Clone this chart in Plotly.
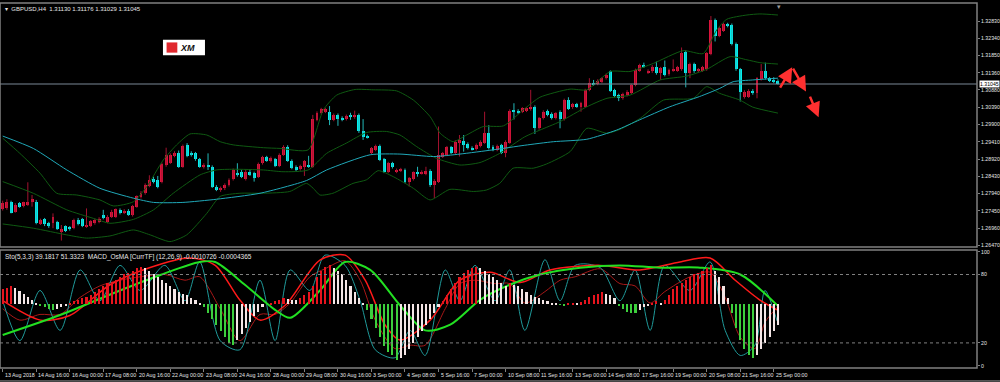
import plotly.graph_objects as go

# ---------------- data ----------------
open_ = [1.2750,1.2752,1.2770,1.2743,1.2767,1.2759,1.2762,1.2769,1.2771,1.2708,
1.2721,1.2710,1.2712,1.2713,1.2684,1.2701,1.2699,1.2696,1.2719,1.2721,
1.2701,1.2702,1.2710,1.2714,1.2734,1.2714,1.2729,1.2729,1.2748,1.2740,
1.2746,1.2733,1.2757,1.2784,1.2795,1.2816,1.2835,1.2833,1.2828,1.2875,
1.2882,1.2901,1.2910,1.2870,1.2932,1.2910,1.2908,1.2891,1.2869,1.2875,
1.2870,1.2814,1.2803,1.2809,1.2819,1.2835,1.2852,1.2856,1.2835,1.2856,
1.2852,1.2842,1.2880,1.2897,1.2885,1.2891,1.2872,1.2904,1.2927,1.2887,
1.2870,1.2863,1.2870,1.2875,1.2870,1.3003,1.3022,1.3026,1.3026,1.3003,
1.3017,1.3009,1.3004,1.3014,1.3010,1.3017,1.2970,1.2957,1.2910,1.2918,
1.2929,1.2891,1.2856,1.2880,1.2856,1.2859,1.2861,1.2828,1.2835,1.2854,
1.2852,1.2850,1.2859,1.2817,1.2828,1.2899,1.2904,1.2925,1.2910,1.2938,
1.2944,1.2935,1.2924,1.2920,1.2929,1.2938,1.2965,1.2927,1.2918,1.2931,
1.2910,1.2938,1.3031,1.3029,1.3026,1.3029,1.3033,1.3040,1.2979,1.3007,
1.3028,1.3020,1.3007,1.3026,1.3005,1.3059,1.3038,1.3047,1.3039,1.3040,
1.3088,1.3108,1.3105,1.3111,1.3121,1.3140,1.3088,1.3073,1.3064,1.3073,
1.3080,1.3102,1.3142,1.3158,1.3137,1.3140,1.3154,1.3135,1.3152,1.3132,
1.3142,1.3142,1.3146,1.3196,1.3137,1.3161,1.3140,1.3142,1.3146,1.3190,
1.3286,1.3241,1.3256,1.3275,1.3272,1.3218,1.3146,1.3067,1.3069,1.3086,
1.3078,1.3118,1.3140,1.3121,1.3116,1.31130]
high = [1.2774,1.2778,1.2774,1.2767,1.2770,1.2771,1.2826,1.2790,1.2776,1.2723,
1.2725,1.2714,1.2738,1.2717,1.2705,1.2704,1.2702,1.2723,1.2725,1.2725,
1.2752,1.2719,1.2723,1.2727,1.2748,1.2733,1.2748,1.2752,1.2752,1.2750,
1.2750,1.2762,1.2789,1.2801,1.2823,1.2846,1.2842,1.2844,1.2882,1.2924,
1.2908,1.2914,1.2916,1.2933,1.2937,1.2914,1.2912,1.2895,1.2880,1.2908,
1.2874,1.2818,1.2814,1.2823,1.2837,1.2865,1.2880,1.2861,1.2861,1.2861,
1.2856,1.2882,1.2901,1.2901,1.2899,1.2895,1.2908,1.2931,1.2931,1.2891,
1.2874,1.2876,1.2889,1.2901,1.3017,1.3027,1.3037,1.3037,1.3042,1.3021,
1.3021,1.3013,1.3018,1.3023,1.3029,1.3021,1.3005,1.2961,1.2926,1.2933,
1.2933,1.2895,1.2884,1.2884,1.2865,1.2867,1.2865,1.2841,1.2857,1.2870,
1.2860,1.2870,1.2863,1.2835,1.2984,1.2912,1.2929,1.2929,1.2945,1.2960,
1.2960,1.2939,1.2928,1.2936,1.2945,1.3026,1.2988,1.2931,1.2933,1.2935,
1.2945,1.3033,1.3050,1.3033,1.3039,1.3039,1.3088,1.3044,1.3011,1.3030,
1.3032,1.3024,1.3025,1.3030,1.3063,1.3067,1.3051,1.3051,1.3054,1.3091,
1.3121,1.3116,1.3118,1.3124,1.3134,1.3143,1.3091,1.3077,1.3080,1.3087,
1.3105,1.3148,1.3162,1.3165,1.3146,1.3158,1.3168,1.3153,1.3171,1.3148,
1.3174,1.3156,1.3208,1.3200,1.3165,1.3165,1.3150,1.3156,1.3195,1.3297,
1.3290,1.3266,1.3278,1.3278,1.3276,1.3222,1.3150,1.3087,1.3090,1.3090,
1.3124,1.3161,1.3165,1.3124,1.3124,1.31176]
low = [1.2746,1.2748,1.2738,1.2740,1.2754,1.2755,1.2759,1.2757,1.2707,1.2705,
1.2702,1.2697,1.2696,1.2691,1.2661,1.2685,1.2689,1.2693,1.2704,1.2699,
1.2697,1.2699,1.2706,1.2710,1.2721,1.2710,1.2725,1.2725,1.2735,1.2736,
1.2731,1.2729,1.2754,1.2780,1.2791,1.2812,1.2823,1.2809,1.2823,1.2870,
1.2878,1.2897,1.2867,1.2867,1.2897,1.2899,1.2887,1.2867,1.2865,1.2861,
1.2810,1.2801,1.2799,1.2804,1.2814,1.2831,1.2842,1.2838,1.2831,1.2844,
1.2828,1.2838,1.2876,1.2884,1.2882,1.2869,1.2869,1.2901,1.2884,1.2863,
1.2857,1.2859,1.2844,1.2867,1.2867,1.2999,1.3018,1.3022,1.2988,1.2999,
1.2986,1.2999,1.3001,1.3003,1.3006,1.2966,1.2946,1.2950,1.2906,1.2914,
1.2886,1.2852,1.2852,1.2865,1.2852,1.2855,1.2824,1.2814,1.2831,1.2842,
1.2848,1.2846,1.2813,1.2781,1.2824,1.2895,1.2900,1.2906,1.2906,1.2899,
1.2913,1.2919,1.2916,1.2916,1.2925,1.2935,1.2919,1.2914,1.2914,1.2906,
1.2897,1.2935,1.3004,1.3020,1.3022,1.3025,1.3029,1.2963,1.2975,1.3004,
1.3013,1.3004,1.3004,1.2979,1.3001,1.3031,1.3034,1.3037,1.3026,1.3037,
1.3084,1.3099,1.3101,1.3107,1.3117,1.3082,1.3067,1.3056,1.3060,1.3069,
1.3076,1.3098,1.3139,1.3150,1.3133,1.3136,1.3131,1.3116,1.3126,1.3128,
1.3139,1.3139,1.3142,1.3095,1.3121,1.3136,1.3136,1.3139,1.3142,1.3186,
1.3225,1.3237,1.3252,1.3265,1.3214,1.3142,1.3055,1.3063,1.3065,1.3074,
1.3064,1.3114,1.3117,1.3110,1.3107,1.31029]
close = [1.2767,1.2770,1.2740,1.2761,1.2757,1.2769,1.2771,1.2778,1.2710,1.2719,
1.2707,1.2701,1.2727,1.2693,1.2693,1.2689,1.2693,1.2719,1.2708,1.2702,
1.2706,1.2716,1.2719,1.2723,1.2724,1.2729,1.2743,1.2750,1.2738,1.2746,
1.2734,1.2759,1.2786,1.2797,1.2819,1.2833,1.2827,1.2814,1.2878,1.2904,
1.2904,1.2910,1.2870,1.2929,1.2901,1.2904,1.2891,1.2870,1.2875,1.2869,
1.2814,1.2804,1.2809,1.2819,1.2833,1.2861,1.2847,1.2842,1.2856,1.2847,
1.2837,1.2878,1.2897,1.2887,1.2894,1.2872,1.2904,1.2927,1.2887,1.2866,
1.2861,1.2872,1.2885,1.2870,1.3005,1.3023,1.3033,1.3033,1.3003,1.3017,
1.3005,1.3003,1.3014,1.3012,1.3017,1.2970,1.2955,1.2954,1.2922,1.2929,
1.2889,1.2856,1.2880,1.2869,1.2861,1.2863,1.2828,1.2837,1.2854,1.2850,
1.2856,1.2859,1.2817,1.2831,1.2904,1.2908,1.2925,1.2910,1.2941,1.2946,
1.2932,1.2922,1.2920,1.2932,1.2941,1.2965,1.2922,1.2918,1.2929,1.2910,
1.2941,1.3029,1.3026,1.3023,1.3036,1.3036,1.3040,1.2979,1.3007,1.3026,
1.3017,1.3007,1.3022,1.3005,1.3059,1.3035,1.3047,1.3040,1.3050,1.3088,
1.3107,1.3103,1.3114,1.3121,1.3130,1.3086,1.3071,1.3064,1.3076,1.3083,
1.3102,1.3144,1.3158,1.3154,1.3142,1.3154,1.3135,1.3149,1.3130,1.3144,
1.3146,1.3152,1.3193,1.3137,1.3161,1.3140,1.3146,1.3152,1.3191,1.3286,
1.3241,1.3262,1.3275,1.3269,1.3218,1.3146,1.3083,1.3083,1.3086,1.3078,
1.3121,1.3140,1.3121,1.3114,1.3111,1.31045]
bars = list(range(len(close)))

# Moving average (cyan) sampled along the chart: (bar, price)
ma_bar = [0, 7.3, 15.3, 23.2, 31.2, 36, 43, 51, 61.4, 72.5, 77.3, 87.7, 94.8, 102.8, 109.1, 117, 124.6,
          131.4, 139.4, 146.5, 152, 159.2, 166.3, 171.1, 174.3, 179, 185]
ma_val = [1.2957, 1.2922, 1.2861, 1.2809, 1.2781, 1.2769, 1.2769, 1.2778, 1.2795, 1.2831, 1.2861, 1.2904, 1.2906,
          1.2899, 1.2906, 1.2918, 1.2931, 1.2941, 1.2948, 1.2974, 1.3003, 1.3040, 1.3069, 1.3092, 1.3111, 1.3116, 1.3121]

# Bollinger bands (dark green)
bbu_bar = [0, 4.1, 8.9, 12.9, 17.7, 23.2, 26.4, 31.2, 34.4, 38.3, 41.5, 44.7, 48.7, 51.9, 55, 62.2, 66.2, 72.9,
           76.5, 79.7, 84.1, 88.4, 94, 98, 102, 104.4, 107.5, 110.7, 114.7, 119.5, 124.7, 128.2, 135.4, 139.4,
           145, 149.7, 155.3, 162.4, 167.2, 170.4, 172.8, 177.6, 180.7, 185]
bbu_val = [1.2951, 1.2908, 1.2852, 1.2795, 1.2790, 1.2776, 1.2759, 1.2771, 1.2814, 1.2889, 1.2932, 1.2963, 1.2960,
           1.2941, 1.2932, 1.2924, 1.2922, 1.2918, 1.3031, 1.3073, 1.3089, 1.3088, 1.3085, 1.3059, 1.3012, 1.2965,
           1.2941, 1.2960, 1.2984, 1.2986, 1.3036, 1.3067, 1.3090, 1.3088, 1.3140, 1.3140, 1.3163, 1.3199, 1.3191,
           1.3258, 1.3288, 1.3300, 1.3303, 1.3300]
bbm_bar = [0, 7.3, 15.3, 21.6, 25.6, 31.2, 36, 40.7, 47.1, 51, 55, 62.2, 66.9, 72.9, 77.3, 82, 86.8, 91.6, 94.8,
           98.8, 103.5, 109.1, 113.9, 118.6, 124.6, 128.2, 133, 139.4, 144.2, 149.7, 156.9, 163.3, 168, 173.6,
           177.6, 180.7, 185]
bbm_val = [1.2828, 1.2795, 1.2748, 1.2724, 1.2710, 1.2721, 1.2748, 1.2795, 1.2847, 1.2861, 1.2863, 1.2861, 1.2856,
           1.2861, 1.2908, 1.2937, 1.2967, 1.2970, 1.2960, 1.2927, 1.2894, 1.2875, 1.2882, 1.2908, 1.2955, 1.2974,
           1.2998, 1.3040, 1.3064, 1.3073, 1.3116, 1.3127, 1.3146, 1.3182, 1.3173, 1.3165, 1.3161]
bbl_bar = [0, 7.3, 15.3, 20, 25.6, 31.2, 35.2, 39.9, 43.9, 48.7, 51.9, 56.6, 62.2, 68.5, 72.5, 74.1, 75.7, 78.8,
           83.6, 86.8, 89.6, 93.2, 98, 102, 106.7, 112.3, 115.4, 118.6, 121.8, 126.6, 129.8, 135.4, 139.4, 144.2,
           147.3, 152.1, 157.7, 164.8, 168, 171.1, 175.9, 179, 185]
bbl_val = [1.2708, 1.2696, 1.2677, 1.2668, 1.2674, 1.2691, 1.2677, 1.2658, 1.2677, 1.2738, 1.2786, 1.2795, 1.2795,
           1.2800, 1.2823, 1.2809, 1.2790, 1.2795, 1.2823, 1.2833, 1.2859, 1.2842, 1.2809, 1.2776, 1.2806, 1.2800,
           1.2804, 1.2823, 1.2866, 1.2866, 1.2878, 1.2913, 1.2979, 1.2965, 1.2976, 1.3007, 1.3059, 1.3064, 1.3097,
           1.3078, 1.3059, 1.3039, 1.3022]

# Hand-drawn projection arrows: (bar, price) tail -> head
arrow_tail_bar = [185.3, 188.4, 192.5]
arrow_tail_val = [1.3090, 1.3152, 1.3073]
arrow_head_bar = [188.4, 191.7, 194.7]
arrow_head_val = [1.3152, 1.3083, 1.3010]

price_ticks = [1.32830, 1.32340, 1.31850, 1.31360, 1.30880, 1.30390, 1.29900, 1.29410,
               1.28920, 1.28430, 1.27940, 1.27450, 1.26960, 1.26470]
last_price = 1.31045
xtick_bars = list(range(0, 185, 8))
xtick_labels = ["13 Aug 2018", "14 Aug 16:00", "16 Aug 00:00", "17 Aug 08:00", "20 Aug 16:00", "22 Aug 00:00",
                "23 Aug 08:00", "24 Aug 16:00", "28 Aug 00:00", "29 Aug 08:00", "30 Aug 16:00", "3 Sep 00:00",
                "4 Sep 08:00", "5 Sep 16:00", "7 Sep 00:00", "10 Sep 08:00", "11 Sep 16:00", "13 Sep 00:00",
                "14 Sep 08:00", "17 Sep 16:00", "19 Sep 00:00", "20 Sep 08:00", "21 Sep 16:00", "25 Sep 00:00"]

# Lower window: OsMA histogram (x1e-4) per bar
osma = [5,5.5,6,5.5,4.5,3.5,2.5,1.5,
        0.5,-0.5,-1,-1.5,-2,-1.5,-1,-0.5,0.3,
        1,1.5,2,2.5,3,4,5,6,7,7.5,8,9,10,10.5,11,12,12.5,
        12,11,10,9,8,7,6,5,4,3.5,3,2,1.5,0.5,
        -1,-3,-5,-7,-9,-11,-13,-13.5,-12,-10,
        -8,-6,-4,-2.5,-1,0,
        0.5,1,1.5,2,1.8,1.5,
        1.2,2,3,4,6,9,11,12.5,13,12,11,10,8,
        6,4,2,0.5,
        -2,-5,-8,-11,-14,-16,-17,-18.5,-18,-17,-15,-13,-11,-9,-7,-5,-3,-1,
        1,3,5,7,9,10.5,11.5,12,12.5,12,11,10,9,8,7,
        6,7,6.5,6,5,4,3,2.5,2,1.5,1,
        0.5,0.3,-0.3,-0.5,0.2,0.5,0.3,0.6,
        1.5,2.5,3,3.5,4,3.5,3,2,
        -0.5,-1.5,-2.5,-3,-3,-2,-1,-0.5,
        0.5,1,0.5,1.5,
        3,5,6,7,8,9,10,10.5,11,12,13,11,
        9,6,2,-3,-8,-12,-15,-17,-18,-17,-15,-13,-11,-9,-7]

# Lower window lines (0..100 scale), sampled (bar, value)
green_bar = [0, 13.7, 28, 37.6, 47, 50.7, 57.8, 65, 68.6, 75.7, 81.7, 87.7, 94.8, 100.8, 106.8, 114, 121, 128.2,
             137.8, 147.3, 156.9, 166.4, 176, 184.8]
green_val = [27, 44.5, 66, 79.6, 91, 91, 71, 49, 42, 66, 91, 84, 53, 31, 36, 58, 71, 80, 86, 88, 86, 86, 80, 53]
red_bar = [0, 9, 16, 25.6, 35, 44.7, 50.7, 56.6, 61.4, 67.4, 75.7, 81.7, 86.5, 91.2, 94.8, 102, 109.1, 116.3,
           123.5, 130.6, 142.6, 152, 161.6, 168.8, 174.8, 180.7, 184.8]
red_val = [57, 40, 44, 71, 86, 94.5, 88, 57.6, 40, 53, 92.7, 97, 75, 36, 22.5, 40, 75, 82, 73, 84, 88, 84, 91,
           94.5, 75, 57.6, 49]
sto_bar = [0, 4.1, 8.9, 13.7, 18.5, 23.2, 28, 32.8, 38.7, 43.5, 47, 51.9, 56.6, 61.4, 65, 68.6, 73.3, 76.9, 81.7,
           85.3, 88.9, 93.6, 97.2, 100.8, 105.6, 109.1, 112.7, 117.5, 121, 124.6, 129.4, 133, 136.6, 142.6, 147.3,
           150.9, 154.5, 158, 164, 168.8, 172.4, 176, 179.5, 181.9, 184.8]
sto_main = [57, 22, 66, 31, 84, 57, 88, 66, 88, 57, 91, 22, 14, 75, 22, 84, 66, 97, 88, 57, 14, 7, 31, 9, 84, 57,
            88, 57, 84, 31, 93, 57, 88, 86, 57, 84, 31, 88, 66, 91, 31, 9, 18, 66, 39.2]
sto_signal = [50, 40, 45, 45, 60, 70, 75, 78, 80, 75, 78, 50, 22, 45, 45, 55, 78, 85, 92, 75, 40, 15, 18, 18, 50,
              72, 75, 72, 72, 55, 65, 75, 78, 85, 72, 70, 55, 65, 78, 82, 60, 25, 15, 38, 51.3]

# ---------------- figure ----------------
BG = "#000000"
GRID = "#808080"
TXT = "#e6e6e6"
UP_BODY, UP_WICK = "#dc143c", "#a3122f"
DN_BODY, DN_WICK = "#00f0f0", "#22b8b8"
FONT = "Liberation Sans, Arial, sans-serif"

fig = go.Figure()

# wicks
for up, col in ((True, UP_WICK), (False, DN_WICK)):
    wx, wy = [], []
    for i in bars:
        if (close[i] >= open_[i]) == up:
            wx += [i, i, None]
            wy += [low[i], high[i], None]
    fig.add_trace(go.Scatter(x=wx, y=wy, mode="lines", line=dict(color=col, width=1),
                             hoverinfo="skip", showlegend=False, yaxis="y"))

# bodies
min_body = 0.00025
for up, col in ((True, UP_BODY), (False, DN_BODY)):
    idx = [i for i in bars if (close[i] >= open_[i]) == up]
    base = [min(open_[i], close[i]) for i in idx]
    hgt = [max(abs(close[i] - open_[i]), min_body) for i in idx]
    fig.add_trace(go.Bar(x=idx, y=hgt, base=base, width=0.7, marker=dict(color=col, line=dict(width=0)),
                         showlegend=False, yaxis="y", hoverinfo="skip"))

# bands and MA
for bx, by in ((bbu_bar, bbu_val), (bbm_bar, bbm_val), (bbl_bar, bbl_val)):
    fig.add_trace(go.Scatter(x=bx, y=by, mode="lines", line=dict(color="#0f5a12", width=1, shape="spline",
                             smoothing=0.6), showlegend=False, yaxis="y", hoverinfo="skip"))
fig.add_trace(go.Scatter(x=ma_bar, y=ma_val, mode="lines", line=dict(color="#20a8b8", width=1, shape="spline",
                         smoothing=0.6), showlegend=False, yaxis="y", hoverinfo="skip"))

# osma histogram
cols = []
for i, v in enumerate(osma):
    prev = osma[i - 1] if i > 0 else v
    if v >= 0:
        cols.append("#e8141e" if v >= prev else "#f4e6e6")
    else:
        cols.append("#3ccf3c" if v <= prev else "#f4e6e6")
fig.add_trace(go.Bar(x=bars, y=osma, width=0.5, marker=dict(color=cols, line=dict(width=0)),
                     showlegend=False, yaxis="y3", hoverinfo="skip"))

fig.add_trace(go.Scatter(x=sto_bar, y=sto_signal, mode="lines", line=dict(color="#a81818", width=1,
                         shape="spline", smoothing=0.8), showlegend=False, yaxis="y2", hoverinfo="skip"))
fig.add_trace(go.Scatter(x=sto_bar, y=sto_main, mode="lines", line=dict(color="#1f9a9a", width=1, shape="spline",
                         smoothing=0.8), showlegend=False, yaxis="y2", hoverinfo="skip"))
fig.add_trace(go.Scatter(x=red_bar, y=red_val, mode="lines", line=dict(color="#ff1a1a", width=1.5, shape="spline",
                         smoothing=0.8), showlegend=False, yaxis="y2", hoverinfo="skip"))
fig.add_trace(go.Scatter(x=green_bar, y=green_val, mode="lines", line=dict(color="#22e022", width=2,
                         shape="spline", smoothing=0.8), showlegend=False, yaxis="y2", hoverinfo="skip"))

MAIN_DOM = [0.3315, 1.0]
LOW_DOM = [0.0, 0.3233]

shapes = [
    dict(type="line", xref="paper", x0=0, x1=1, yref="y", y0=last_price, y1=last_price,
         line=dict(color="#7a8896", width=1)),
    dict(type="rect", xref="paper", x0=0, x1=1, yref="paper", y0=MAIN_DOM[0], y1=MAIN_DOM[1],
         line=dict(color=GRID, width=1.5)),
    dict(type="rect", xref="paper", x0=0, x1=1, yref="paper", y0=LOW_DOM[0], y1=LOW_DOM[1],
         line=dict(color=GRID, width=1.5)),
    dict(type="line", xref="paper", x0=0, x1=1, yref="y2", y0=80, y1=80, line=dict(color=GRID, width=1, dash="dot")),
    dict(type="line", xref="paper", x0=0, x1=1, yref="y2", y0=20, y1=20, line=dict(color=GRID, width=1, dash="dot")),
    # XM logo
    dict(type="rect", xref="paper", yref="paper", x0=0.1668, x1=0.2098, y0=0.857, y1=0.899,
         fillcolor="#ffffff", line=dict(color="#ffffff", width=0)),
    dict(type="rect", xref="paper", yref="paper", x0=0.1705, x1=0.1815, y0=0.864, y1=0.892,
         fillcolor="#e0282e", line=dict(width=0)),
    # window bottom edge
    dict(type="line", xref="paper", yref="paper", x0=0, x1=1.03, y0=-0.0355, y1=-0.0355,
         line=dict(color="#9a9a9a", width=1)),
]

annotations = [
    dict(xref="paper", yref="paper", x=0, y=1, xanchor="left", yanchor="top", xshift=3, yshift=-1,
         text="▾  GBPUSD,H4  1.31130 1.31176 1.31029 1.31045", showarrow=False,
         font=dict(family=FONT, size=6, color=TXT)),
    dict(xref="paper", yref="paper", x=0, y=LOW_DOM[1], xanchor="left", yanchor="top", xshift=3, yshift=-1,
         text="Sto(5,3,3) 39.1817 51.3323  MACD_OsMA [CurrTF] (12,26,9) -0.0010726 -0.0004365",
         showarrow=False, font=dict(family=FONT, size=6.5, color=TXT)),
    dict(xref="paper", yref="y", x=1, y=last_price, xanchor="left", yanchor="middle", xshift=2,
         text="1.31045", showarrow=False, bgcolor="#ffffff", borderpad=0,
         font=dict(family=FONT, size=5.2, color="#000000")),
    dict(xref="paper", yref="paper", x=0.1825, y=0.878, xanchor="left", yanchor="middle",
         text="<b><i>XM</i></b>", showarrow=False, font=dict(family=FONT, size=9, color="#111111")),
    dict(xref="paper", yref="paper", x=0.8014, y=1, yanchor="top", text="▾", showarrow=False, yshift=2,
         font=dict(family=FONT, size=7, color="#9a9a9a")),
]
for xb, xl in zip(xtick_bars, xtick_labels):
    annotations.append(dict(x=xb, xref="x", y=0, yref="paper", xanchor="left", yanchor="top", xshift=0,
                            yshift=-2, text=xl, showarrow=False, font=dict(family=FONT, size=5.3, color=TXT)))
for tb, tv, hb, hv in zip(arrow_tail_bar, arrow_tail_val, arrow_head_bar, arrow_head_val):
    annotations.append(dict(x=hb, y=hv, ax=tb, ay=tv, xref="x", yref="y", axref="x", ayref="y",
                            text="", showarrow=True, arrowhead=2, arrowsize=1.2, arrowwidth=2.5,
                            arrowcolor="#ff3030"))

fig.update_layout(
    width=1000, height=382, paper_bgcolor=BG, plot_bgcolor=BG,
    margin=dict(l=0, r=23, t=3, b=14, autoexpand=False), barmode="overlay", bargap=0,
    font=dict(family=FONT, color=TXT, size=6),
    xaxis=dict(range=[-0.644, 232.5], anchor="y2", showgrid=False, zeroline=False, automargin=False,
               tickmode="array", tickvals=xtick_bars, ticktext=[""] * len(xtick_bars), ticks="outside",
               ticklen=3, tickcolor=GRID, showline=False, tickangle=0),
    yaxis=dict(domain=MAIN_DOM, range=[1.26427, 1.33340], side="right", showgrid=False, zeroline=False,
               automargin=False, tickmode="array", tickvals=price_ticks,
               ticktext=[f"{v:.5f}" for v in price_ticks],
               ticks="outside", ticklen=2, tickcolor=GRID, tickfont=dict(family=FONT, size=5.2, color=TXT),
               showline=False),
    yaxis2=dict(domain=LOW_DOM, range=[-2.0, 101.5], side="right", showgrid=False, zeroline=False,
                automargin=False, tickmode="array", tickvals=[0, 20, 80, 100], ticktext=["0", "20", "80", "100"],
                ticks="outside", ticklen=2, tickcolor=GRID, tickfont=dict(family=FONT, size=5.2, color=TXT),
                showline=False),
    yaxis3=dict(overlaying="y2", range=[-21.3, 18.0], visible=False),
    shapes=shapes, annotations=annotations,
)

fig.write_html("out.html", config={"displayModeBar": False},
               post_script="document.body.style.margin='0';document.body.style.padding='0';"
                           "document.body.style.overflow='hidden';document.body.style.background='#000';")
